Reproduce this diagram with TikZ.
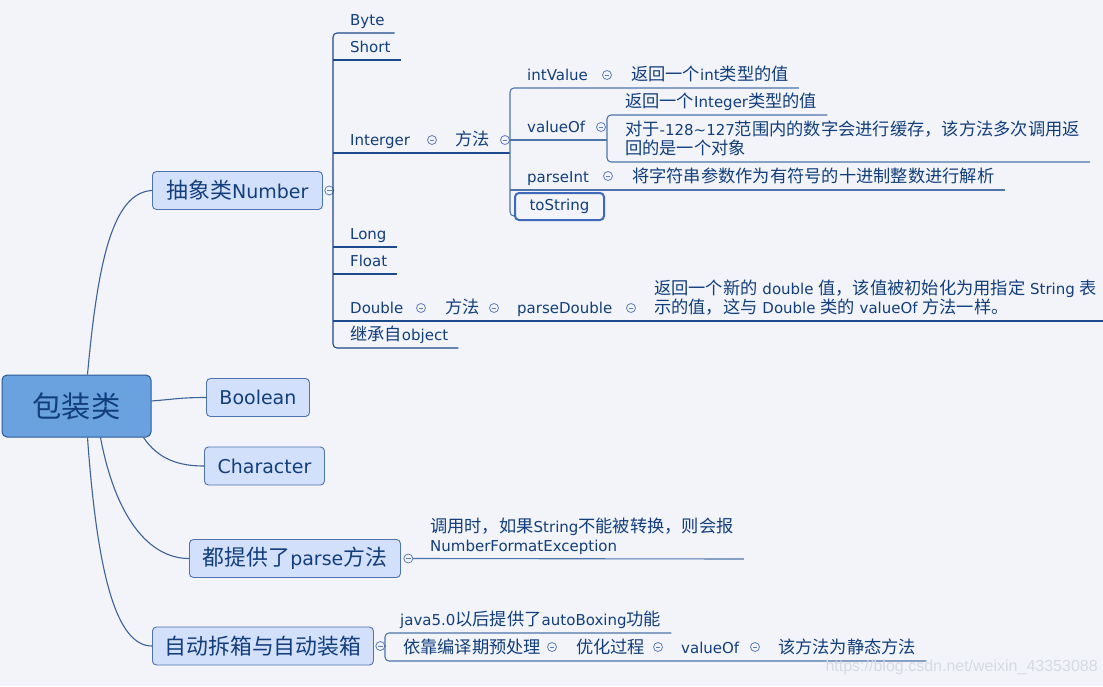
\documentclass[tikz,border=0pt]{standalone}
\usepackage{fontspec}
\setmainfont{DejaVu Sans}
\newfontfamily\latinfont{DejaVu Sans}
\newfontfamily\cjkfont{Noto Sans CJK SC}[Scale=1.15]
\newfontfamily\wmfont{Liberation Sans}
\usetikzlibrary{positioning}

% switch to the CJK family for Chinese characters
\XeTeXinterchartokenstate=1
\newXeTeXintercharclass\cjkclass
\newcount\cjkcode
\newcommand\cjkrange[2]{%
  \cjkcode=#1
  \loop
    \XeTeXcharclass\cjkcode=\cjkclass
  \ifnum\cjkcode<#2
    \advance\cjkcode by 1
  \repeat}
\cjkrange{"4E00}{"9FFF}
\cjkrange{"3000}{"303F}
\cjkrange{"FF00}{"FFEF}
\XeTeXinterchartoks 0 \cjkclass = {\cjkfont}
\XeTeXinterchartoks 4095 \cjkclass = {\cjkfont}
\XeTeXinterchartoks \cjkclass 0 = {\latinfont}
\XeTeXinterchartoks \cjkclass 4095 = {\latinfont}

\definecolor{bgc}{RGB}{242,244,250}
\definecolor{rootfill}{RGB}{106,162,224}
\definecolor{rootline}{RGB}{44,90,152}
\definecolor{topfill}{RGB}{211,224,251}
\definecolor{topline}{RGB}{77,116,176}
\definecolor{txtc}{RGB}{18,62,124}
\definecolor{navy}{RGB}{28,75,139}
\definecolor{steel}{RGB}{79,115,171}
\definecolor{linkc}{RGB}{61,97,153}
\definecolor{foldc}{RGB}{94,127,181}
\definecolor{selc}{RGB}{63,104,186}
\definecolor{wmc}{RGB}{214,218,226}

\tikzset{
  rootnode/.style={rectangle, draw=rootline, fill=rootfill, rounded corners=5pt,
    minimum width=149pt, minimum height=62pt, text=txtc,
    font=\fontsize{25.5}{30}\selectfont, line width=1pt},
  topic/.style={rectangle, draw=topline, fill=topfill, rounded corners=4pt,
    minimum height=38pt, inner xsep=12pt, anchor=west, text=txtc,
    font=\fontsize{19}{23}\selectfont, line width=0.9pt},
  leaf/.style={anchor=south west, inner xsep=10pt, inner ysep=0pt,
    text depth=7pt, text=txtc, font=\fontsize{15}{19}\selectfont},
  selnode/.style={rectangle, draw=selc, fill=bgc, rounded corners=4pt,
    minimum width=89pt, minimum height=27pt, text=txtc,
    font=\fontsize{15}{19}\selectfont, line width=2pt},
  fold/.style={circle, draw=foldc, fill=bgc, minimum size=9pt, inner sep=0pt,
    line width=0.8pt,
    path picture={\draw[foldc, line width=0.8pt]
      ([xshift=-2.2pt]path picture bounding box.center) --
      ([xshift=2.2pt]path picture bounding box.center);}},
  rootlink/.style={draw=linkc, line width=1.1pt},
  branch/.style={draw=navy, line width=1.1pt, rounded corners=4pt},
  subline/.style={draw=steel, line width=1.1pt, rounded corners=4pt},
  wmark/.style={text=wmc, font=\wmfont\fontsize{16}{18}\selectfont}
}

\begin{document}
\begin{tikzpicture}[x=1pt, y=-1pt]
  % Canvas
  \useasboundingbox (0,0) rectangle (1103,686);
  \fill[bgc] (0,0) rectangle (1103,686);

  % Central topic and main topics
  \node[rootnode] (root) at (76.5,406) {包装类};
  \node[topic, minimum width=170pt] (num) at (152,190.5) {抽象类Number};
  \node[topic, minimum width=103pt] (bool) at (206,397.5) {Boolean};
  \node[topic, minimum width=120pt] (chr) at (204,466) {Character};
  \node[topic, minimum width=211pt] (prs) at (189,558.5) {都提供了parse方法};
  \node[topic, minimum width=221pt] (auto) at (152,646) {自动拆箱与自动装箱};
  \node[fold, right=1.5pt of num] (numf) {};
  \node[fold, right=2.5pt of prs] (prsf) {};
  \node[fold, right=1.5pt of auto] (autof) {};

  \draw[rootlink] ([xshift=11pt]root.north) .. controls +(10,-110) and +(-40,2) .. (num.west);
  \draw[rootlink] ([yshift=5pt]root.east) .. controls +(25,-2) and +(-25,0) .. (bool.west);
  \draw[rootlink] ([xshift=-8pt]root.south east) .. controls +(15,22) and +(-25,0) .. (chr.west);
  \draw[rootlink] ([xshift=24pt]root.south) .. controls +(15,80) and +(-40,0) .. (prs.west);
  \draw[rootlink] ([xshift=11pt]root.south) .. controls +(10,140) and +(-35,0) .. (auto.west);

  % Number subclasses
  \coordinate (brkA) at (333,190);
  \coordinate (brkB) at (510,140);
  \coordinate (brkC) at (607,140);
  \coordinate (rim) at (1103,321);
  \node[leaf] (byte) at (340,33) {Byte};
  \node[leaf] (short) at (340,60) {Short};
  \node[leaf] (intg) at (340,153) {Interger};
  \node[fold] (intgf) at (432,140) {};
  \node[leaf] (intm) at (445,153) {方法};
  \node[fold] (intmf) at (505,140) {};
  \node[leaf] (long) at (340,247) {Long};
  \node[leaf] (float) at (340,274) {Float};
  \node[leaf] (dbl) at (340,321) {Double};
  \node[fold] (dblf) at (421,308) {};
  \node[leaf] (dblm) at (435,321) {方法};
  \node[fold] (dblmf) at (494,308) {};
  \node[leaf] (pdbl) at (507,321) {parseDouble};
  \node[fold] (pdblf) at (631,308) {};
  \node[leaf, align=left] (pdbld) at (644,321)
    {返回一个新的 double 值，该值被初始化为用指定 String 表\\示的值，这与 Double 类的 valueOf 方法一样。};
  \node[leaf] (obj) at (340,348) {继承自object};

  \draw[branch] (numf.east) -- (brkA |- numf.east);
  \draw[branch] (byte.south east) -- (brkA |- byte.south) -- (brkA |- obj.south) -- (obj.south east);
  \draw[branch] (brkA |- short.south) -- (short.south east);
  \draw[branch] (brkA |- intg.south) -- (brkB |- intg.south);
  \draw[branch] (brkA |- long.south) -- (long.south east);
  \draw[branch] (brkA |- float.south) -- (float.south east);
  \draw[branch] (brkA |- dbl.south) -- (rim |- dbl.south);

  % Integer methods
  \node[leaf] (intv) at (517,88) {intValue};
  \node[fold] (intvf) at (607,75) {};
  \node[leaf] (intvd) at (621,88) {返回一个int类型的值};
  \node[leaf] (valof) at (517,140) {valueOf};
  \node[fold] (valoff) at (601,127) {};
  \node[leaf] (vint) at (615,115) {返回一个Integer类型的值};
  \node[leaf, align=left] (vcache) at (615,162)
    {对于-128\textasciitilde127范围内的数字会进行缓存，该方法多次调用返\\回的是一个对象};
  \node[leaf] (pint) at (517,190) {parseInt};
  \node[fold] (pintf) at (608,176) {};
  \node[leaf] (pintd) at (622,190) {将字符串参数作为有符号的十进制整数进行解析};
  \node[selnode] (tostr) at (559.5,206.5) {toString};

  \draw[subline] (intvd.south east) -- (brkB |- intv.south) -- ([yshift=5pt]brkB |- tostr.south) -- ([yshift=5pt]tostr.south west);
  \draw[subline] (brkB |- valof.south) -- (brkC |- valof.south);
  \draw[subline] (brkB |- pint.south) -- (pintd.south east);
  \draw[subline] (vint.south east) -- (brkC |- vint.south) -- (brkC |- vcache.south) -- (vcache.south east);

  % parse
  \node[leaf, align=left] (prsd) at (420,559)
    {调用时，如果String不能被转换，则会报\\NumberFormatException};
  \draw[subline] (prsf.east) -- (prsd.south east);

  % Autoboxing
  \coordinate (brkD) at (385,646);
  \node[leaf] (java) at (390,633) {java5.0以后提供了autoBoxing功能};
  \node[leaf] (dep) at (393,661) {依靠编译期预处理};
  \node[fold] (depf) at (552,647) {};
  \node[leaf] (opt) at (566,661) {优化过程};
  \node[fold] (optf) at (658,647) {};
  \node[leaf] (vo) at (671,661) {valueOf};
  \node[fold] (vof) at (755,647) {};
  \node[leaf] (stat) at (768,661) {该方法为静态方法};

  \draw[subline] (autof.east) -- (brkD |- autof.east);
  \draw[subline] (java.south east) -- (brkD |- java.south) -- (brkD |- stat.south) -- (stat.south east);

  \node[wmark, anchor=west] (wm) at (822,667) {https://blog.csdn.net/weixin\_43353088};
\end{tikzpicture}
\end{document}
